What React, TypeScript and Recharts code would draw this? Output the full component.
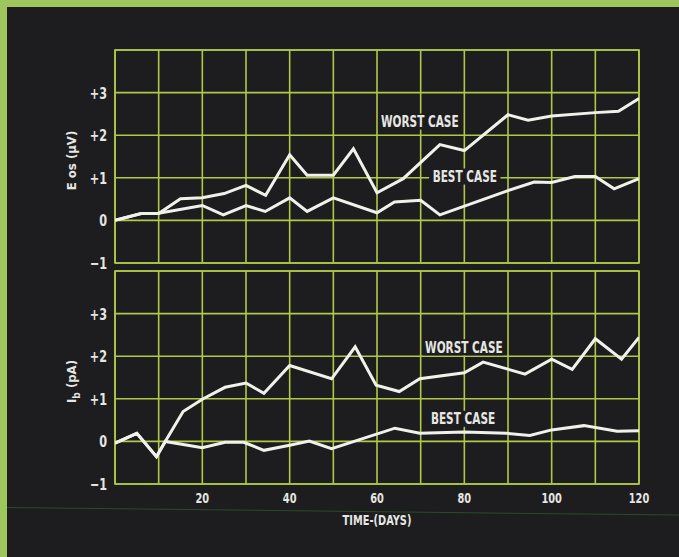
import React from 'react';
import { LineChart, Line, XAxis, YAxis, CartesianGrid, ReferenceArea, ReferenceDot } from 'recharts';

// ---- Data ----
const gridDays = [0, 10, 20, 30, 40, 50, 60, 70, 80, 90, 100, 110, 120];
const xTickLabels: Record<number, string> = { 20: '20', 40: '40', 60: '60', 80: '80', 100: '100', 120: '120' };
const yTicks = [-1, 0, 1, 2, 3, 4];
const yTickLabels: Record<number, string> = { [-1]: '\u22121', 0: '0', 1: '+1', 2: '+2', 3: '+3', 4: '' };

const eosWorst = [
  { day: 0, v: 0 }, { day: 6, v: 0.16 }, { day: 10, v: 0.16 }, { day: 15, v: 0.51 },
  { day: 20, v: 0.53 }, { day: 25, v: 0.63 }, { day: 30, v: 0.82 }, { day: 34.5, v: 0.59 },
  { day: 40, v: 1.54 }, { day: 44, v: 1.06 }, { day: 50, v: 1.06 }, { day: 54.6, v: 1.68 },
  { day: 60, v: 0.65 }, { day: 66, v: 0.98 }, { day: 74.4, v: 1.78 }, { day: 80, v: 1.64 },
  { day: 90, v: 2.48 }, { day: 94.6, v: 2.35 }, { day: 100, v: 2.45 }, { day: 110, v: 2.53 },
  { day: 115.3, v: 2.56 }, { day: 120, v: 2.86 },
];
const eosBest = [
  { day: 0, v: 0 }, { day: 6, v: 0.16 }, { day: 10, v: 0.17 }, { day: 20, v: 0.35 },
  { day: 24.8, v: 0.13 }, { day: 30, v: 0.35 }, { day: 34.4, v: 0.21 }, { day: 40, v: 0.53 },
  { day: 44, v: 0.21 }, { day: 50, v: 0.53 }, { day: 60, v: 0.18 }, { day: 64, v: 0.43 },
  { day: 70, v: 0.47 }, { day: 74.4, v: 0.13 }, { day: 90, v: 0.7 }, { day: 96, v: 0.9 },
  { day: 100, v: 0.89 }, { day: 105.3, v: 1.03 }, { day: 110, v: 1.03 }, { day: 114.3, v: 0.74 },
  { day: 120, v: 0.98 },
];
const ibWorst = [
  { day: 0, v: -0.04 }, { day: 5, v: 0.19 }, { day: 9.5, v: -0.36 }, { day: 11.5, v: 0.0 },
  { day: 15.6, v: 0.7 }, { day: 20, v: 0.99 }, { day: 25.2, v: 1.27 }, { day: 30, v: 1.37 },
  { day: 34.1, v: 1.13 }, { day: 40, v: 1.78 }, { day: 49.6, v: 1.47 }, { day: 55, v: 2.22 },
  { day: 59.8, v: 1.32 }, { day: 65.1, v: 1.17 }, { day: 69.8, v: 1.47 }, { day: 80, v: 1.61 },
  { day: 84.3, v: 1.86 }, { day: 93.9, v: 1.58 }, { day: 100, v: 1.93 }, { day: 104.7, v: 1.69 },
  { day: 110, v: 2.41 }, { day: 116, v: 1.93 }, { day: 120, v: 2.44 },
];
const ibBest = [
  { day: 0, v: -0.04 }, { day: 5, v: 0.19 }, { day: 9.5, v: -0.36 }, { day: 11.5, v: 0.0 },
  { day: 20, v: -0.15 }, { day: 25.2, v: -0.02 }, { day: 29.5, v: -0.02 }, { day: 34.1, v: -0.21 },
  { day: 40, v: -0.09 }, { day: 44.5, v: 0.01 }, { day: 49.6, v: -0.17 }, { day: 64.1, v: 0.31 },
  { day: 69.8, v: 0.19 }, { day: 80, v: 0.22 }, { day: 89.7, v: 0.19 }, { day: 95, v: 0.14 },
  { day: 100, v: 0.27 }, { day: 107.4, v: 0.37 }, { day: 115, v: 0.24 }, { day: 120, v: 0.25 },
];
const eosLabels = [
  { day: 69.8, v: 2.32, text: 'WORST CASE' },
  { day: 80.1, v: 1.03, text: 'BEST CASE' },
];
const ibLabels = [
  { day: 79.9, v: 2.21, text: 'WORST CASE' },
  { day: 79.7, v: 0.53, text: 'BEST CASE' },
];

// ---- Styles ----
const FONT = "'DejaVu Sans Condensed', 'Liberation Sans Narrow', 'Arial Narrow', sans-serif";
const FRAME = '#9fc65c';
const PANEL = '#1d1d1f';
const GRID = '#afc947';
const LINE = '#f1f1ec';
const TEXT = '#e6e6e2';
const SX = 0.78;

const ScaledText = (p: { x: number; y: number; size: number; anchor: string; children: React.ReactNode; weight?: string }) => (
  <text
    transform={`translate(${p.x},${p.y}) scale(${SX},1)`}
    textAnchor={p.anchor as any}
    fill={TEXT}
    fontFamily={FONT}
    fontWeight={p.weight || 'bold'}
    fontSize={p.size}
  >
    {p.children}
  </text>
);

const CaseLabel = (props: any) => {
  const { viewBox, value } = props;
  const cx = viewBox.x + (viewBox.width || 0) / 2;
  const cy = viewBox.y + (viewBox.height || 0) / 2;
  const w = value.length * 7.7 + 2;
  return (
    <g>
      <rect x={cx - w / 2} y={cy - 8} width={w} height={16} fill={PANEL} />
      <ScaledText x={cx} y={cy + 5.5} size={15} anchor="middle">{value}</ScaledText>
    </g>
  );
};

const YTick = (props: any) => {
  const { x, y, payload } = props;
  const label = yTickLabels[payload.value] ?? '';
  if (!label) return null;
  return <ScaledText x={x} y={y + 6} size={16} anchor="end">{label}</ScaledText>;
};

const XTick = (props: any) => {
  const { x, y, payload } = props;
  const label = xTickLabels[payload.value] || '';
  if (!label) return null;
  return <ScaledText x={x} y={y + 10} size={14} anchor="middle">{label}</ScaledText>;
};

const YTitle = (props: any) => {
  const { viewBox, kind } = props;
  const x = viewBox.x + 21;
  const y = viewBox.y + viewBox.height / 2 + 4;
  return (
    <text transform={`translate(${x},${y}) rotate(-90)`} textAnchor="middle" fill={TEXT} fontFamily={FONT} fontWeight="bold" fontSize={13}>
      {kind === 'eos' ? 'E os (\u03BCV)' : (
        <>
          <tspan>I</tspan>
          <tspan dy={4} fontSize={10}>b</tspan>
          <tspan dy={-4}> (pA)</tspan>
        </>
      )}
    </text>
  );
};

const XTitle = (props: any) => {
  const { viewBox } = props;
  const x = viewBox.x + viewBox.width / 2;
  return <ScaledText x={x} y={viewBox.y + 41} size={14} anchor="middle">TIME-(DAYS)</ScaledText>;
};

function Panel(props: {
  worst: { day: number; v: number }[];
  best: { day: number; v: number }[];
  labels: { day: number; v: number; text: string }[];
  kind: 'eos' | 'ib';
  height: number;
  margin: { top: number; right: number; left: number; bottom: number };
  showX: boolean;
}) {
  const { worst, best, labels, kind, height, margin, showX } = props;
  return (
    <LineChart width={679} height={height} margin={margin}>
      <CartesianGrid stroke={GRID} strokeWidth={1.6} />
      <XAxis
        type="number"
        dataKey="day"
        domain={[0, 120]}
        ticks={gridDays}
        hide={!showX}
        height={30}
        axisLine={false}
        tickLine={false}
        tickSize={0}
        tickMargin={9}
        interval={0}
        tick={<XTick />}
        allowDataOverflow
        label={showX ? <XTitle /> : undefined}
      />
      <YAxis
        type="number"
        domain={[-1, 4]}
        ticks={yTicks}
        width={60}
        axisLine={false}
        tickLine={false}
        tickSize={0}
        tickMargin={8}
        interval={0}
        tick={<YTick />}
        label={<YTitle kind={kind} />}
      />
      <ReferenceArea x1={0} x2={120} y1={-1} y2={4} fill="none" stroke={GRID} strokeWidth={1.6} />
      <Line data={worst} dataKey="v" type="linear" stroke={LINE} strokeWidth={3} dot={false} isAnimationActive={false} />
      <Line data={best} dataKey="v" type="linear" stroke={LINE} strokeWidth={3} dot={false} isAnimationActive={false} />
      {labels.map((l) => (
        <ReferenceDot key={l.text} x={l.day} y={l.v} r={0} fill="none" stroke="none" label={<CaseLabel value={l.text} />} />
      ))}
    </LineChart>
  );
}

export default function App() {
  return (
    <div style={{ position: 'absolute', left: 0, top: 0, width: 679, height: 557, background: FRAME, overflow: 'hidden' }}>
      <div style={{ position: 'absolute', left: 7, top: 7, right: 0, bottom: 0, background: PANEL }} />
      <div style={{ position: 'absolute', left: 7, top: 507, width: 672, height: 1, background: '#2c4a2a', transform: 'rotate(0.65deg)', transformOrigin: 'left center' }} />
      <div style={{ position: 'absolute', left: 0, top: 0 }}>
        <Panel
          worst={eosWorst}
          best={eosBest}
          labels={eosLabels}
          kind="eos"
          height={280}
          margin={{ top: 50, right: 40, left: 55, bottom: 17 }}
          showX={false}
        />
      </div>
      <div style={{ position: 'absolute', left: 0, top: 0 }}>
        <Panel
          worst={ibWorst}
          best={ibBest}
          labels={ibLabels}
          kind="ib"
          height={557}
          margin={{ top: 271, right: 40, left: 55, bottom: 43 }}
          showX={true}
        />
      </div>
    </div>
  );
}
